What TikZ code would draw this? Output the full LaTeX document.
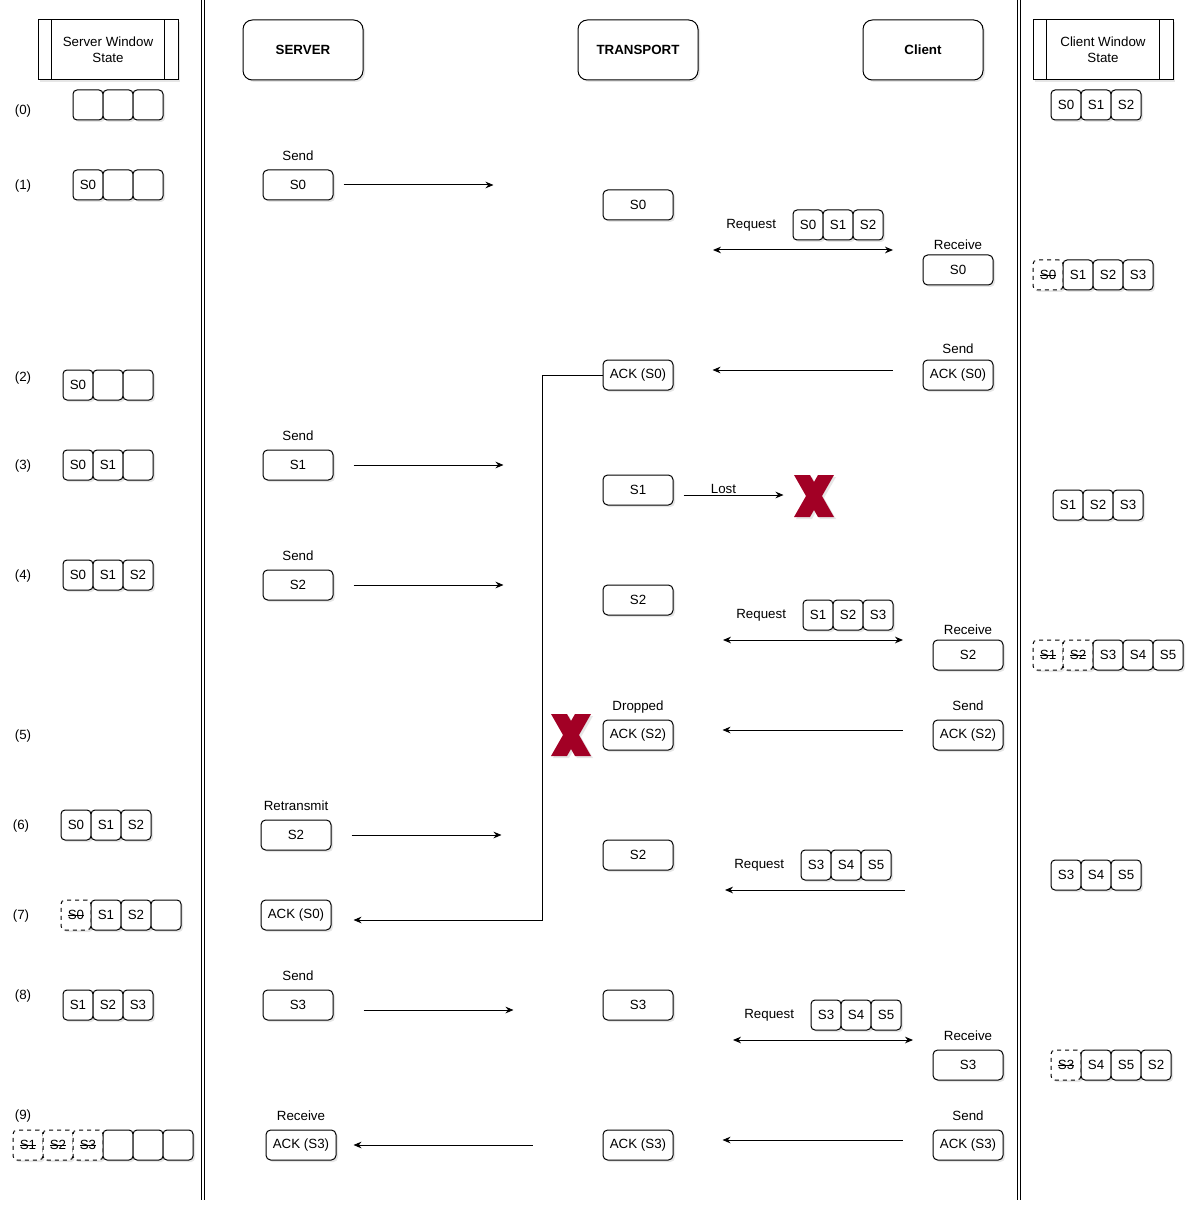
\documentclass[tikz,border=0pt]{standalone}
\usepackage{fontspec}
\setmainfont{Liberation Sans}
\usetikzlibrary{positioning,shadows,arrows.meta}

\definecolor{xred}{RGB}{162,0,37}

\newcommand\struck[1]{\begingroup\setbox0\hbox{#1}\copy0\llap{\rule[0.33em]{\wd0}{0.5pt}}\endgroup}

\tikzset{
  boxshadow/.style={drop shadow={shadow xshift=1.5pt,shadow yshift=-1.5pt,opacity=0.2}},
  hdr/.style={draw,fill=white,rounded corners=7pt,minimum width=90pt,minimum height=45pt,boxshadow},
  proc/.style={draw,fill=white,minimum width=105pt,minimum height=45pt,align=center,boxshadow},
  box/.style={draw,fill=white,rounded corners=3.5pt,minimum width=52.5pt,minimum height=22.5pt,inner sep=1pt,boxshadow},
  cell/.style={draw,fill=white,rounded corners=3pt,minimum width=22.5pt,minimum height=22.5pt,inner sep=0pt,boxshadow},
  lbl/.style={inner sep=1pt},
  rowno/.style={inner sep=1pt},
  msg/.style={-{Stealth[length=6pt,width=5pt]}},
  msgboth/.style={{Stealth[length=6pt,width=5pt]}-{Stealth[length=6pt,width=5pt]}},
}

% one row of window slots: name, left x, centre y, list of style/text
\newcommand\winrow[4]{%
  \foreach \st/\txt [count=\i] in {#4}
    \node[cell,\st] (#1-\i) at ({#2+30*\i-15},#3) {\txt};
}
% red cross: name, top left x, y
\newcommand\redx[3]{%
  \fill[xred,boxshadow] (#2,#3) coordinate (#1) -- ++(16,0) -- ++(4,7) -- ++(4,-7) -- ++(16,0)
    -- ++(-12,21) -- ++(12,21) -- ++(-16,0) -- ++(-4,-7) -- ++(-4,7) -- ++(-16,0) -- ++(12,-21) -- cycle;
}

\begin{document}
\begin{tikzpicture}[x=0.75pt,y=-0.75pt,font=\fontsize{10}{12}\selectfont,line width=0.75pt]
\useasboundingbox (0,0) rectangle (1195,1212);

% separators
\foreach \x in {201,204,1017,1020} \draw (\x,0) -- (\x,1200);

% headers
\node[proc] (sws) at (108,50) {Server Window\\State};
\node[hdr] (srv) at (303,50) {\textbf{SERVER}};
\node[hdr] (trn) at (638,50) {\textbf{TRANSPORT}};
\node[hdr] (cli) at (923,50) {\textbf{Client}};
\node[proc] (cws) at (1103,50) {Client Window\\State};
\foreach \n in {sws,cws}
  \draw ([xshift=10.5pt]\n.north west) -- ([xshift=10.5pt]\n.south west)
        ([xshift=-10.5pt]\n.north east) -- ([xshift=-10.5pt]\n.south east);

% step numbers
\foreach \n/\x/\y in {0/23/111,1/23/186,2/23/378,3/23/466,4/23/576,5/23/736,6/21/826,7/21/916,8/23/996,9/23/1116}
  \node[rowno] (r\n) at (\x,\y) {(\n)};

% server window
\winrow{sw0}{73}{105}{solid/{},solid/{},solid/{}}
\winrow{sw1}{73}{185}{solid/S0,solid/{},solid/{}}
\winrow{sw2}{63}{385}{solid/S0,solid/{},solid/{}}
\winrow{sw3}{63}{465}{solid/S0,solid/S1,solid/{}}
\winrow{sw4}{63}{575}{solid/S0,solid/S1,solid/S2}
\winrow{sw6}{61}{825}{solid/S0,solid/S1,solid/S2}
\winrow{sw7}{61}{915}{dashed/\struck{S0},solid/S1,solid/S2,solid/{}}
\winrow{sw8}{63}{1005}{solid/S1,solid/S2,solid/S3}
\winrow{sw9}{13}{1145}{dashed/\struck{S1},dashed/\struck{S2},dashed/\struck{S3},solid/{},solid/{},solid/{}}

% server
\node[box] (s1) at (298,185) {S0};
\node[lbl,above=5pt of s1] (s1l) {Send};
\node[box] (s3) at (298,465) {S1};
\node[lbl,above=5pt of s3] (s3l) {Send};
\node[box] (s4) at (298,585) {S2};
\node[lbl,above=5pt of s4] (s4l) {Send};
\node[box] (s6) at (296,835) {S2};
\node[lbl,above=5pt of s6] (s6l) {Retransmit};
\node[box] (s7) at (296,915) {ACK (S0)};
\node[box] (s8) at (298,1005) {S3};
\node[lbl,above=5pt of s8] (s8l) {Send};
\node[box] (s9) at (301,1145) {ACK (S3)};
\node[lbl,above=5pt of s9] (s9l) {Receive};

% transport
\node[box] (t1) at (638,205) {S0};
\node[box] (t2) at (638,375) {ACK (S0)};
\node[box] (t3) at (638,490) {S1};
\node[box] (t4) at (638,600) {S2};
\node[box] (t5) at (638,735) {ACK (S2)};
\node[lbl,above=3pt of t5] (t5l) {Dropped};
\node[box] (t6) at (638,855) {S2};
\node[box] (t7) at (638,1005) {S3};
\node[box] (t8) at (638,1145) {ACK (S3)};

% client
\node[box] (c1) at (958,270) {S0};
\node[lbl,above=2pt of c1] (c1l) {Receive};
\node[box] (c2) at (958,375) {ACK (S0)};
\node[lbl,above=3pt of c2] (c2l) {Send};
\node[box] (c3) at (968,655) {S2};
\node[lbl,above=2pt of c3] (c3l) {Receive};
\node[box] (c4) at (968,735) {ACK (S2)};
\node[lbl,above=5pt of c4] (c4l) {Send};
\node[box] (c5) at (968,1065) {S3};
\node[lbl,above=5pt of c5] (c5l) {Receive};
\node[box] (c6) at (968,1145) {ACK (S3)};
\node[lbl,above=5pt of c6] (c6l) {Send};

% requests
\winrow{q1}{793}{225}{solid/S0,solid/S1,solid/S2}
\node[lbl,left=11pt of q1-1] (q1l) {Request};
\winrow{q2}{803}{615}{solid/S1,solid/S2,solid/S3}
\node[lbl,left=11pt of q2-1] (q2l) {Request};
\winrow{q3}{801}{865}{solid/S3,solid/S4,solid/S5}
\node[lbl,left=11pt of q3-1] (q3l) {Request};
\winrow{q4}{811}{1015}{solid/S3,solid/S4,solid/S5}
\node[lbl,left=11pt of q4-1] (q4l) {Request};
\coordinate (q1a) at (713,250); \coordinate (q1b) at (893,250);
\coordinate (q2a) at (723,640); \coordinate (q2b) at (903,640);
\coordinate (q3a) at (905,890); \coordinate (q3b) at (725,890);
\coordinate (q4a) at (733,1040); \coordinate (q4b) at (913,1040);

% client window
\winrow{cw0}{1051}{105}{solid/S0,solid/S1,solid/S2}
\winrow{cw1}{1033}{275}{dashed/\struck{S0},solid/S1,solid/S2,solid/S3}
\winrow{cw2}{1053}{505}{solid/S1,solid/S2,solid/S3}
\winrow{cw3}{1033}{655}{dashed/\struck{S1},dashed/\struck{S2},solid/S3,solid/S4,solid/S5}
\winrow{cw4}{1051}{875}{solid/S3,solid/S4,solid/S5}
\winrow{cw5}{1051}{1065}{dashed/\struck{S3},solid/S4,solid/S5,solid/S2}

% messages
\draw[msg] ([xshift=7.5pt]s1.east) -- ++(150,0);
\draw[msg] ([xshift=15pt]s3.east) -- ++(150,0);
\draw[msg] ([xshift=15pt]s4.east) -- ++(150,0);
\draw[msg] ([xshift=15pt]s6.east) -- ++(150,0);
\draw[msg] ([xshift=22.5pt,yshift=-3.75pt]s8.east) -- ++(150,0);
\draw[msg] (t2.west) -- ++(-60,0) |- ([xshift=16.5pt,yshift=-3.75pt]s7.east);
\draw[msg] ([xshift=-52.5pt]t8.west) -- ([xshift=12.75pt]s9.east);
\draw[msg] ([xshift=7.5pt,yshift=-3.75pt]t3.east) -- ++(100,0) node[lbl,pos=0.4,above] (lost) {Lost};
\draw[msg] ([xshift=-22.5pt,yshift=3.75pt]c2.west) -- ++(-180,0);
\draw[msg] ([xshift=-22.5pt,yshift=3.75pt]c4.west) -- ++(-180,0);
\draw[msg] ([xshift=-22.5pt,yshift=3.75pt]c6.west) -- ++(-180,0);
\draw[msgboth] (q1a) -- (q1b);
\draw[msgboth] (q2a) -- (q2b);
\draw[msg] (q3a) -- (q3b);
\draw[msgboth] (q4a) -- (q4b);

% lost and dropped
\redx{x1}{794}{475}
\redx{x2}{551}{714}
\end{tikzpicture}
\end{document}
